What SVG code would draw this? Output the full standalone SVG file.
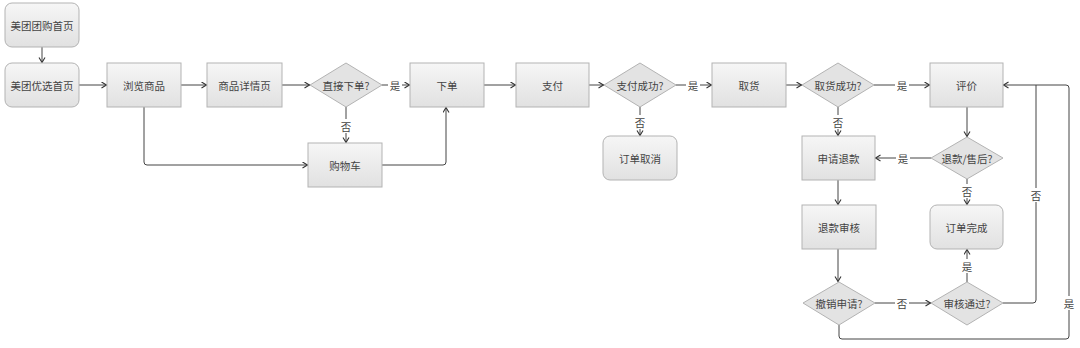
<svg xmlns="http://www.w3.org/2000/svg" width="1080" height="348" viewBox="0 0 1080 348">
<defs>
<linearGradient id="g" x1="0" y1="0" x2="0" y2="1"><stop offset="0" stop-color="#f6f6f6"/><stop offset="1" stop-color="#e1e1e1"/></linearGradient>
<marker id="a" markerWidth="8" markerHeight="8" refX="5.5" refY="3.5" orient="auto" markerUnits="userSpaceOnUse"><path d="M0.5,0.5 L5.5,3.5 L0.5,6.5" fill="none" stroke="#333" stroke-width="1.1"/></marker>
</defs>
<style>
.n rect{fill:url(#g);stroke:#b3b3b3;stroke-width:1}
.n polygon{fill:#e3e3e3;stroke:#b3b3b3;stroke-width:1}
text{font-family:"Noto Sans CJK SC","Liberation Sans",sans-serif;font-size:10.5px;fill:#444;text-anchor:middle;dominant-baseline:central}
#edges path{fill:none;stroke:#444;stroke-width:1}
.ar{marker-end:url(#a)}
.lb rect{fill:#fff}
</style>
<rect width="1080" height="348" fill="#fff"/>
<g id="edges">
<path class="ar" d="M42,47 V62.5"/>
<path class="ar" d="M79,85 H106.5"/>
<path class="ar" d="M181,85 H206.5"/>
<path class="ar" d="M282,85 H309.5"/>
<path class="ar" d="M382,85 H409.5"/>
<path class="ar" d="M346,107 V142.5"/>
<path class="ar" d="M144,107 V162 Q144,165 147,165 H307.5"/>
<path class="ar" d="M382,165 H443 Q446,165 446,162 V107.5"/>
<path class="ar" d="M484,85 H515.5"/>
<path class="ar" d="M589,85 H603.5"/>
<path class="ar" d="M640,107 V135.5"/>
<path class="ar" d="M676,85 H711.5"/>
<path class="ar" d="M786,85 H801.5"/>
<path class="ar" d="M874,85 H929.5"/>
<path class="ar" d="M838,107 V135.5"/>
<path class="ar" d="M967,107 V136.5"/>
<path class="ar" d="M931,158 H875.5"/>
<path class="ar" d="M967,179 V204.5"/>
<path class="ar" d="M838,180 V204.5"/>
<path class="ar" d="M838,249 V281.5"/>
<path class="ar" d="M875,303 H930.5"/>
<path class="ar" d="M967,282 V249.5"/>
<path class="ar" d="M1003,303 H1033 Q1036,303 1036,300 V85 H1003.5"/>
<path d="M839,325 V336 Q839,339 842,339 H1066 Q1069,339 1069,336 V88 Q1069,85 1066,85 H1036"/>
<g class="lb">
<rect x="388" y="78" width="14" height="14"/><text x="395" y="85">是</text>
<rect x="339" y="119" width="14" height="14"/><text x="346" y="126">否</text>
<rect x="633" y="115" width="14" height="14"/><text x="640" y="122">否</text>
<rect x="686" y="78" width="14" height="14"/><text x="693" y="85">是</text>
<rect x="895" y="78" width="14" height="14"/><text x="902" y="85">是</text>
<rect x="831" y="115" width="14" height="14"/><text x="838" y="122">否</text>
<rect x="896" y="151" width="14" height="14"/><text x="903" y="158">是</text>
<rect x="960" y="184" width="14" height="14"/><text x="967" y="191">否</text>
<rect x="895" y="296" width="14" height="14"/><text x="902" y="303">否</text>
<rect x="960" y="259" width="14" height="14"/><text x="967" y="266">是</text>
<rect x="1029" y="188" width="14" height="14"/><text x="1036" y="195">否</text>
<rect x="1062" y="296" width="14" height="14"/><text x="1069" y="303">是</text>
</g>
</g>
<g id="n1" class="n"><rect x="5" y="3" width="74" height="44" rx="7"/><text x="42" y="25">美团团购首页</text></g>
<g id="n2" class="n"><rect x="5" y="63" width="74" height="44" rx="7"/><text x="42" y="85">美团优选首页</text></g>
<g id="n3" class="n"><rect x="107" y="63" width="74" height="44"/><text x="144" y="85">浏览商品</text></g>
<g id="n4" class="n"><rect x="207" y="63" width="75" height="44"/><text x="244.5" y="85">商品详情页</text></g>
<g id="n5" class="n"><polygon points="310,85 346,63 382,85 346,107"/><text x="346" y="85">直接下单?</text></g>
<g id="n6" class="n"><rect x="308" y="143" width="74" height="44"/><text x="345" y="165">购物车</text></g>
<g id="n7" class="n"><rect x="410" y="63" width="74" height="44"/><text x="447" y="85">下单</text></g>
<g id="n8" class="n"><rect x="516" y="63" width="73" height="44"/><text x="552.5" y="85">支付</text></g>
<g id="n9" class="n"><polygon points="604,85 640,63 676,85 640,107"/><text x="640" y="85">支付成功?</text></g>
<g id="n10" class="n"><rect x="603" y="136" width="74" height="44" rx="7"/><text x="640" y="158">订单取消</text></g>
<g id="n11" class="n"><rect x="712" y="63" width="74" height="44"/><text x="749" y="85">取货</text></g>
<g id="n12" class="n"><polygon points="802,85 838,63 874,85 838,107"/><text x="838" y="85">取货成功?</text></g>
<g id="n13" class="n"><rect x="930" y="63" width="73" height="44"/><text x="966.5" y="85">评价</text></g>
<g id="n14" class="n"><rect x="802" y="136" width="73" height="44"/><text x="838.5" y="158">申请退款</text></g>
<g id="n15" class="n"><polygon points="931,158 967,137 1003,158 967,179"/><text x="967" y="158">退款/售后?</text></g>
<g id="n16" class="n"><rect x="802" y="205" width="74" height="44"/><text x="839" y="227">退款审核</text></g>
<g id="n17" class="n"><rect x="930" y="205" width="73" height="44" rx="7"/><text x="966.5" y="227">订单完成</text></g>
<g id="n18" class="n"><polygon points="803,303 839,282 875,303 839,325"/><text x="839" y="303">撤销申请?</text></g>
<g id="n19" class="n"><polygon points="931,303 967,282 1003,303 967,325"/><text x="967" y="303">审核通过?</text></g>
</svg>
